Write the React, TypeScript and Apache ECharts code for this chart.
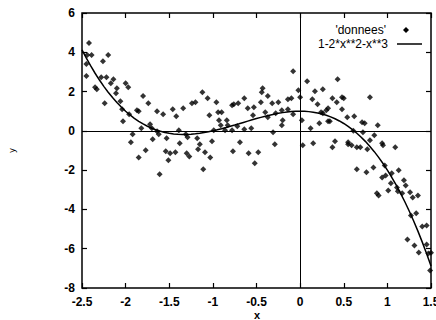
import React, { useEffect, useRef } from "react";
import * as echarts from "echarts";

// Data points 'donnees': [x, y]
const donneesX = [
  -2.42, -2.44, -2.39, -2.45, -2.45, -2.35, -2.33, -2.28, -2.26, -2.20,
  -2.24, -2.22, -2.17, -2.14, -2.10, -2.11, -2.06, -2.04, -2.03, -2.00,
  -1.97, -1.96, -1.92, -1.94, -1.87, -1.85, -1.80, -1.74, -1.82, -1.85,
  -1.77, -1.72, -1.70, -1.69, -1.64, -1.64, -1.62, -1.57, -1.61, -1.53,
  -1.54, -1.51, -1.49, -1.43, -1.46, -1.42, -1.39, -1.38, -1.34, -1.31,
  -1.30, -1.27, -1.29, -1.24, -1.20, -1.18, -1.15, -1.17, -1.12, -1.06,
  -1.11, -1.09, -1.03, -1.01, -0.96, -1.04, -0.94, -0.90, -0.93, -0.84,
  -0.91, -0.83, -0.99, -0.86, -0.78, -0.76, -0.71, -0.64, -0.60, -0.53,
  -0.45, -0.43, -0.44, -0.37, -0.32, -0.25, -0.14, -0.10, -0.02, 0.0,
  -0.54, -0.40, -0.37, -0.28, -0.21, -0.14, -0.08, -0.20, -0.21, -0.72,
  -0.64, -0.56, -0.78, -0.31, -0.69, -0.77, -0.59, -0.48, -0.52, -0.29,
  0.03, -0.08, 0.08, 0.43, 0.17, 0.26, 0.14, 0.20, 0.37, 0.42,
  0.48, 0.50, 0.80, 0.48, 0.32, 0.30, 0.26, 0.24, 0.22, 0.32,
  0.34, 0.54, 0.62, 0.71, 0.74, 0.89, 0.12, 0.02, 0.72, 0.85,
  0.61, 0.80, 0.94, 0.55, 0.40, 0.15, 0.37, 0.55, 0.59, 0.65,
  0.69, 0.77, 0.95, 1.09, 0.65, 0.76, 0.84, 0.94, 0.98, 1.05,
  1.13, 0.97, 1.04, 1.01, 0.88, 0.90, 1.11, 1.12, 1.19, 1.21,
  1.17, 1.26, 1.29, 1.35, 1.27, 1.33, 1.40, 1.45, 1.23, 1.31,
  1.36, 1.45, 1.47, 1.49, 1.50,
];
const donneesY = [
  4.47, 3.86, 3.86, 3.40, 2.79, 2.22, 2.12, 2.73, 3.55, 3.86,
  1.41, 2.73, 2.43, 2.63, 2.17, 1.92, 1.51, 1.10, 0.49, 2.43,
  2.22, 0.85, -0.17, -0.58, 1.05, 1.00, 1.77, 1.41, 0.13, -1.35,
  -0.99, 0.34, 0.13, -0.43, 1.00, -0.02, -0.17, 0.85, -2.21, -0.38,
  -1.04, -1.50, -1.14, -1.09, 1.10, 0.74, 0.03, -0.63, 1.15, -0.17,
  -1.14, -1.30, -0.33, 1.41, 1.46, -0.38, -0.68, -0.94, 1.97, 1.66,
  -1.96, -1.09, -1.35, -0.53, 1.46, 0.80, 0.95, 0.95, 0.54, 0.54,
  0.29, 0.29, 0.03, 0.03, 1.31, 1.36, 1.41, 1.66, 1.15, 1.20,
  1.46, 2.17, 1.97, 1.77, 1.41, 1.46, 1.61, 1.66, 2.07, 1.71,
  0.80, 0.95, 0.69, 0.90, 1.05, 1.10, 0.85, 0.54, 0.29, 0.23,
  0.08, 0.13, 0.03, -0.07, -0.58, -1.04, -1.14, -1.09, -1.65, -0.68,
  -0.73, 3.04, 2.53, 2.63, 2.02, 2.12, 1.61, 1.36, 1.66, 1.46,
  1.71, 1.66, 1.71, 1.10, 1.15, 1.05, 0.90, 0.95, 0.39, 0.49,
  0.49, 0.69, 0.74, 0.44, 0.39, 0.29, 0.13, 0.54, -0.07, -0.22,
  0.00, -0.48, -0.63, -0.58, -0.53, -0.63, -0.84, -0.68, -0.73, -0.84,
  -0.84, -0.94, -0.73, -0.84, -1.96, -2.11, -1.86, -2.37, -2.27, -2.16,
  -2.01, -1.76, -2.67, -3.03, -3.18, -3.29, -2.88, -3.08, -2.52, -2.78,
  -3.18, -3.13, -3.39, -3.29, -4.31, -4.20, -4.87, -4.82, -5.53, -5.84,
  -6.19, -5.79, -6.24, -7.11, -6.20,
];

// Plotted function from the legend: 1-2*x**2-x**3
const fnStart = -2.5;
const fnEnd = 1.5;
const fnSteps = 80;
const fnLabel = "1-2*x**2-x**3";
const pointsLabel = "'donnees'";

const xTicks = [-2.5, -2, -1.5, -1, -0.5, 0, 0.5, 1, 1.5];
const yTicks = [-8, -6, -4, -2, 0, 2, 4, 6];

export default function App() {
  const ref = useRef<HTMLDivElement>(null);
  useEffect(() => {
    document.body.style.margin = "0";
    if (!ref.current) return;
    const chart = echarts.init(ref.current, undefined, { renderer: "svg" });
    const pts = donneesX.map((x, i) => [x, donneesY[i]]);
    const curve: number[][] = [];
    for (let i = 0; i <= fnSteps; i++) {
      const x = fnStart + ((fnEnd - fnStart) * i) / fnSteps;
      curve.push([x, 1 - 2 * x * x - x * x * x]);
    }
    const font = "Liberation Sans, Arial, sans-serif";
    const axisCommon = {
      type: "value" as const,
      axisLine: { show: false, onZero: false },
      axisTick: { show: true, inside: true, length: 5, lineStyle: { color: "#000", width: 1.2 } },
      splitLine: { show: false },
    };
    chart.setOption({
      animation: false,
      backgroundColor: "#fff",
      grid: {
        left: 82,
        right: 5,
        top: 13,
        bottom: 32,
        outerBoundsMode: "none",
        containLabel: false,
        show: true,
        borderColor: "#000",
        borderWidth: 1.5,
        backgroundColor: "transparent",
      },
      xAxis: [
        {
          ...axisCommon,
          min: -2.5,
          max: 1.5,
          interval: 0.5,
          position: "bottom",
          axisLabel: {
            color: "#000",
            fontSize: 12,
            fontFamily: font,
            fontWeight: "bold",
            margin: 8,
            formatter: (v: number) => (xTicks.includes(v) ? String(v) : ""),
          },
        },
        {
          ...axisCommon,
          min: -2.5,
          max: 1.5,
          interval: 0.5,
          position: "top",
          axisLabel: { show: false },
        },
      ],
      yAxis: [
        {
          ...axisCommon,
          min: -8,
          max: 6,
          interval: 2,
          position: "left",
          name: "y",
          nameLocation: "middle",
          nameRotate: 90,
          nameGap: 66,
          nameTextStyle: { color: "#000", fontSize: 9, fontFamily: font },
          axisLabel: {
            color: "#000",
            fontSize: 12,
            fontFamily: font,
            fontWeight: "bold",
            margin: 7,
            formatter: (v: number) => (yTicks.includes(v) ? String(v) : ""),
          },
        },
        {
          ...axisCommon,
          min: -8,
          max: 6,
          interval: 2,
          position: "right",
          axisLabel: { show: false },
        },
      ],
      series: [
        {
          name: pointsLabel,
          type: "scatter",
          data: pts,
          symbol: "diamond",
          symbolSize: 6,
          itemStyle: { color: "#000" },
          markLine: {
            silent: true,
            symbol: ["none", "none"],
            label: { show: false },
            lineStyle: { color: "#000", width: 1, type: "solid" },
            data: [{ xAxis: 0 }, { yAxis: 0 }],
          },
          z: 3,
        },
        {
          name: fnLabel,
          type: "line",
          data: curve,
          showSymbol: false,
          smooth: false,
          lineStyle: { color: "#000", width: 1.5 },
          z: 4,
        },
      ],
      graphic: [
        {
          type: "text",
          x: 257,
          y: 315,
          style: {
            text: "x",
            fill: "#000",
            font: `bold 11px ${font}`,
            textAlign: "center",
            textVerticalAlign: "middle",
          },
        },
        {
          type: "text",
          right: 436 - 386,
          top: 24,
          style: { text: pointsLabel, fill: "#000", font: `12px ${font}`, textAlign: "right" },
        },
        {
          type: "text",
          right: 436 - 388,
          top: 38,
          style: { text: fnLabel, fill: "#000", font: `12px ${font}`, textAlign: "right" },
        },
        {
          type: "polygon",
          shape: { points: [[406, 27], [409, 30], [406, 33], [403, 30]] },
          style: { fill: "#000" },
        },
        {
          type: "line",
          shape: { x1: 397, y1: 44, x2: 422, y2: 44 },
          style: { stroke: "#000", lineWidth: 1.5 },
        },
      ],
    });
    return () => chart.dispose();
  }, []);
  return <div ref={ref} style={{ width: 436, height: 320 }} />;
}
